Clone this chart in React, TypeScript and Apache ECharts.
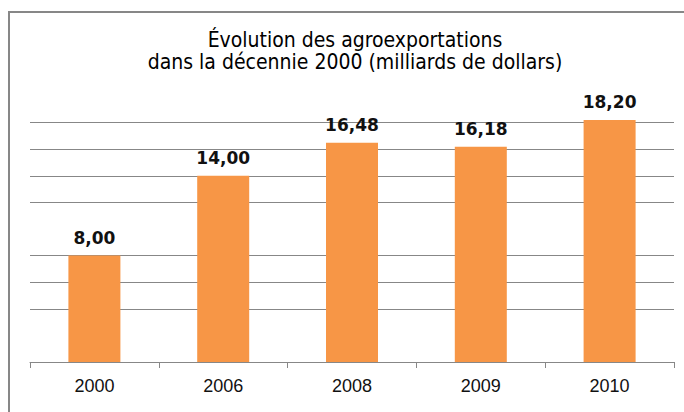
import React, { useEffect, useRef } from "react";
import * as echarts from "echarts";

const categories = ["2000", "2006", "2008", "2009", "2010"];
const values = [8.0, 14.0, 16.48, 16.18, 18.2];
// y ticks 0..20 step 2; which gridlines are visible in the reference
const yTicks = [0, 2, 4, 6, 8, 10, 12, 14, 16, 18, 20];
const visibleGrid = [false, false, true, true, true, false, true, true, true, true, false];

const titleText = "Évolution des agroexportations\ndans la décennie 2000 (milliards de dollars)";

export default function App() {
  const ref = useRef<HTMLDivElement>(null);
  useEffect(() => {
    const chart = echarts.init(ref.current!, null, { renderer: "svg" });
    const gray = "#878787";
    chart.setOption({
      animation: false,
      backgroundColor: "#ffffff",
      title: {
        text: titleText,
        left: 350,
        textAlign: "center",
        top: 24,
        textStyle: {
          fontFamily: "'DejaVu Sans Condensed', 'Liberation Sans Narrow', sans-serif",
          fontSize: 21,
          fontWeight: "normal",
          color: "#000000",
          lineHeight: 22,
        },
      },
      graphic: [
        {
          type: "rect",
          shape: { x: 9, y: 12, width: 720, height: 440 },
          style: { fill: "none", stroke: gray, lineWidth: 2 },
          silent: true,
        },
      ],
      grid: { left: 30, right: 10, top: 96, bottom: 50, containLabel: false },
      xAxis: {
        type: "category",
        data: categories,
        axisLine: { lineStyle: { color: gray, width: 1 } },
        axisTick: { show: true, length: 6, lineStyle: { color: gray } },
        axisLabel: {
          fontFamily: "'Liberation Sans', Arial, sans-serif",
          fontSize: 18,
          color: "#111111",
          margin: 15,
        },
      },
      yAxis: {
        type: "value",
        min: yTicks[0],
        max: yTicks[yTicks.length - 1],
        interval: 2,
        axisLine: { show: false },
        axisTick: { show: false },
        axisLabel: { show: false },
        splitLine: {
          show: true,
          lineStyle: {
            color: visibleGrid.map((v) => (v ? gray : "rgba(0,0,0,0)")),
            width: 1,
          },
        },
      },
      series: [
        {
          type: "bar",
          data: values,
          barWidth: 52,
          itemStyle: { color: "#F79646" },
          label: {
            show: true,
            position: "top",
            distance: 9,
            formatter: (p: any) => p.value.toFixed(2).replace(".", ","),
            fontFamily: "'DejaVu Sans', sans-serif",
            fontWeight: "bold",
            fontSize: 17,
            color: "#111111",
          },
        },
      ],
    });
    return () => chart.dispose();
  }, []);
  return (
    <div
      ref={ref}
      style={{ position: "absolute", left: 0, top: 0, width: 684, height: 412 }}
    />
  );
}
